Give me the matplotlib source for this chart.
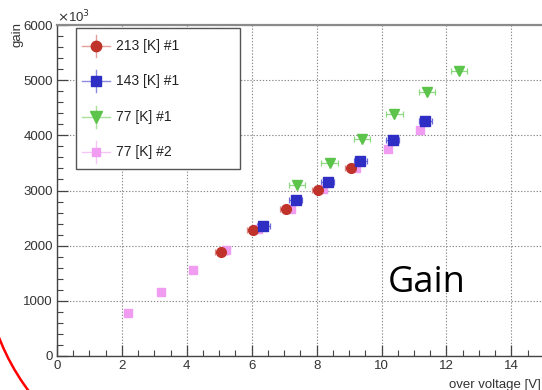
import matplotlib
matplotlib.use("Agg")
import matplotlib.pyplot as plt
from matplotlib.lines import Line2D
from matplotlib.patches import Rectangle, Arc
import numpy as np

# ---- data ----
labels = ["213 [K] #1", "143 [K] #1", "77 [K] #1", "77 [K] #2"]
x213 = [5.05, 6.05, 7.05, 8.05, 9.05]
y213 = [1890, 2280, 2660, 3010, 3400]
x143 = [6.35, 7.35, 8.35, 9.35, 10.35, 11.35]
y143 = [2355, 2820, 3160, 3540, 3915, 4260]
x77a = [7.4, 8.4, 9.4, 10.4, 11.4, 12.4]
y77a = [3100, 3505, 3935, 4380, 4780, 5170]
x77b = [2.2, 3.2, 4.2, 5.2, 6.2, 7.2, 8.2, 9.2, 10.2, 11.2]
y77b = [780, 1165, 1553, 1921, 2296, 2664, 3027, 3400, 3752, 4096]
xerr213 = 0.18
xerr143 = 0.2
xerr77a = 0.25
xticks = [0, 2, 4, 6, 8, 10, 12, 14]

c_red = "#c0332b"
c_blue = "#2e2ec4"
c_green = "#5cc44a"
c_pink = "#f09cf0"

plt.rcParams['font.family'] = ['Liberation Sans', 'DejaVu Sans']

W, H = 542, 390
fig = plt.figure(figsize=(W / 100, H / 100), dpi=100)

def fx(px):
    return px / W

def fy(py):
    return 1 - py / H

x0, x1 = 57, 57 + 16 * 32.45
y0, y1 = 356, 25
ax = fig.add_axes([fx(x0), fy(y0), fx(x1) - fx(x0), fy(y1) - fy(y0)])
ax.set_xlim(0, 16)
ax.set_ylim(0, 6000)

ax.set_xticks(xticks)
ax.set_xticks(np.arange(0, 16.01, 0.5), minor=True)
ax.set_yticks(np.arange(0, 6001, 1000))
ax.set_yticks(np.arange(0, 6001, 200), minor=True)
ax.tick_params(which='both', direction='in', colors='#444444', labelsize=9.5,
               labelcolor='#333333', top=False, right=False)
ax.tick_params(which='major', length=8, width=0.9, pad=3)
ax.tick_params(which='minor', length=4.5, width=0.8)
for s in ['left', 'bottom']:
    ax.spines[s].set_color('#444444')
    ax.spines[s].set_linewidth(1.0)
ax.spines['top'].set_color('#8a8a8a')
ax.spines['top'].set_linewidth(1.6)
ax.spines['right'].set_visible(False)

ax.grid(True, which='major', color='#8a8a8a', linestyle=(0, (1.2, 1.6)), linewidth=0.8)
ax.axvline(16, color='#8a8a8a', linestyle=(0, (1.2, 1.6)), linewidth=0.8, zorder=0)
ax.set_axisbelow(True)

ekw = dict(linestyle='none', capsize=2.2, elinewidth=0.9, capthick=0.9)
ax.errorbar(x213, y213, xerr=xerr213, fmt='o', color=c_red, ms=7,
            ecolor='#d98a85', **ekw)
ax.errorbar(x143, y143, xerr=xerr143, fmt='s', color=c_blue, ms=7,
            ecolor='#6a6ad8', **ekw)
ax.errorbar(x77a, y77a, xerr=xerr77a, fmt='v', color=c_green, ms=7.5,
            ecolor='#8fd882', **ekw)
ax.plot(x77b, y77b, 's', color=c_pink, ms=5.8, linestyle='none')

# legend box (manual, ROOT style)
lx0, ly0, lx1, ly1 = 76, 28, 240, 169
fig.patches.append(Rectangle((fx(lx0), fy(ly1)), fx(lx1) - fx(lx0), fy(ly0) - fy(ly1),
                             transform=fig.transFigure, facecolor='white',
                             edgecolor='#555555', linewidth=1.0, zorder=5))
rows = [46, 81, 117, 152]
mk = ['o', 's', 'v', 's']
cols = [c_red, c_blue, c_green, c_pink]
lcols = ['#e2a09b', '#8a8ae0', '#a8e09c', '#f6c4f6']
msz = [7.5, 7.5, 8, 6.2]
for lab, r, m, c, lc, s in zip(labels, rows, mk, cols, lcols, msz):
    fig.add_artist(Line2D([fx(82), fx(110)], [fy(r), fy(r)], color=lc, lw=1.0,
                          transform=fig.transFigure, zorder=6))
    fig.add_artist(Line2D([fx(96), fx(96)], [fy(r - 11), fy(r + 11)], color=lc, lw=1.0,
                          transform=fig.transFigure, zorder=6))
    fig.add_artist(Line2D([fx(96)], [fy(r)], marker=m, color=c, ms=s, linestyle='none',
                          transform=fig.transFigure, zorder=7))
    fig.text(fx(116), fy(r), lab, fontsize=10, color='#222222', va='center', ha='left',
             zorder=8)

# axis titles
fig.text(fx(57), fy(22), r"$\times$10$^{3}$", fontsize=9.5, color='#333333',
         ha='left', va='baseline')
fig.text(fx(17), fy(22), "gain", fontsize=9.5, color='#333333', rotation=90,
         ha='center', va='top')
fig.text(fx(541), fy(388), "over voltage [V]", fontsize=9.5, color='#333333',
         ha='right', va='baseline')

# annotation
fig.text(fx(388), fy(292), "Gain", fontsize=26, color='black',
         family=['Open Sans', 'DejaVu Sans'], ha='left', va='baseline')

arc = Arc((2.065, 1.328), 4.45, 4.45, theta1=190, theta2=240, color='#ff0000', lw=1.8,
          transform=fig.dpi_scale_trans)
fig.add_artist(arc)

fig.savefig("out.png", dpi=100)
